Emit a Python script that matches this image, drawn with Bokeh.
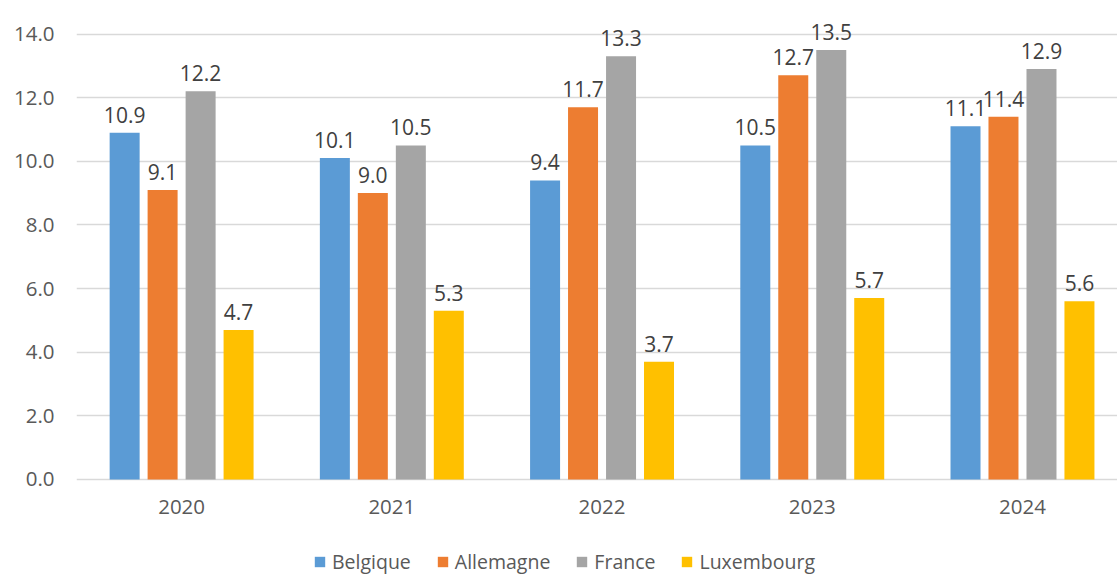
from bokeh.plotting import figure
from bokeh.models import ColumnDataSource, Legend, LegendItem, FixedTicker
from bokeh.transform import dodge
from bokeh.core.properties import value
from bokeh.embed import file_html
from bokeh.resources import INLINE

years = ["2020", "2021", "2022", "2023", "2024"]
series_names = ["Belgique", "Allemagne", "France", "Luxembourg"]
belgique = [10.9, 10.1, 9.4, 10.5, 11.1]
allemagne = [9.1, 9.0, 11.7, 12.7, 11.4]
france = [12.2, 10.5, 13.3, 13.5, 12.9]
luxembourg = [4.7, 5.3, 3.7, 5.7, 5.6]
y_ticks = [0, 2, 4, 6, 8, 10, 12, 14]

colors = ["#5B9BD5", "#ED7D31", "#A5A5A5", "#FFC000"]
offsets = [-0.271, -0.0904, 0.0904, 0.271]
FONT = "Open Sans"

data = {"x": list(range(len(years)))}
for name, vals in zip(series_names, [belgique, allemagne, france, luxembourg]):
    data[name] = vals
    data[name + "_lbl"] = ["%.1f" % v for v in vals]
src = ColumnDataSource(data)

p = figure(frame_width=1041, frame_height=575, x_range=(-0.5, 4.452), y_range=(-3.017, 15.053),
           output_backend="svg", toolbar_location=None,
           min_border_left=76, min_border_right=0, min_border_top=0, min_border_bottom=0)
p.outline_line_color = None
p.background_fill_color = "white"

renderers = []
for name, col, off in zip(series_names, colors, offsets):
    r = p.vbar(x=dodge("x", off, range=p.x_range), top=name, width=0.1427, bottom=0,
               source=src, fill_color=col, line_color=None)
    renderers.append(r)
    p.text(x=dodge("x", off, range=p.x_range), y=name, text=name + "_lbl", source=src,
           text_align="center", text_baseline="alphabetic", y_offset=-18,
           text_font=value(FONT), text_font_size="21px", text_color="#404040")

p.yaxis.ticker = FixedTicker(ticks=y_ticks)
p.yaxis.formatter.use_scientific = False
p.yaxis.major_label_overrides = {t: "%.1f" % t for t in y_ticks}
p.xaxis.ticker = FixedTicker(ticks=list(range(len(years))))
p.xaxis.major_label_overrides = {i: y for i, y in enumerate(years)}
p.xaxis.fixed_location = 0

for ax in (p.xaxis, p.yaxis):
    ax.axis_line_color = None
    ax.major_tick_line_color = None
    ax.minor_tick_line_color = None
    ax.major_tick_out = 0
    ax.major_tick_in = 0
    ax.major_label_text_font = FONT
    ax.major_label_text_font_size = "20.5px"
    ax.major_label_text_color = "#595959"
p.yaxis.major_label_standoff = 22
p.xaxis.major_label_standoff = 21

p.xgrid.grid_line_color = None
p.ygrid.ticker = FixedTicker(ticks=y_ticks)
p.ygrid.grid_line_color = "#D9D9D9"
p.ygrid.grid_line_width = 1.5

legend = Legend(items=[LegendItem(label=n, renderers=[r]) for n, r in zip(series_names, renderers)],
                orientation="horizontal", location=(237, 0))
legend.border_line_color = None
legend.background_fill_alpha = 0
legend.glyph_width = 13
legend.glyph_height = 13
legend.label_standoff = 6
legend.spacing = 25
legend.padding = 0
legend.margin = 0
legend.label_text_font = FONT
legend.label_text_font_size = "19.5px"
legend.label_text_color = "#595959"
p.add_layout(legend, "center")

open("out.html", "w").write(file_html(p, INLINE))
